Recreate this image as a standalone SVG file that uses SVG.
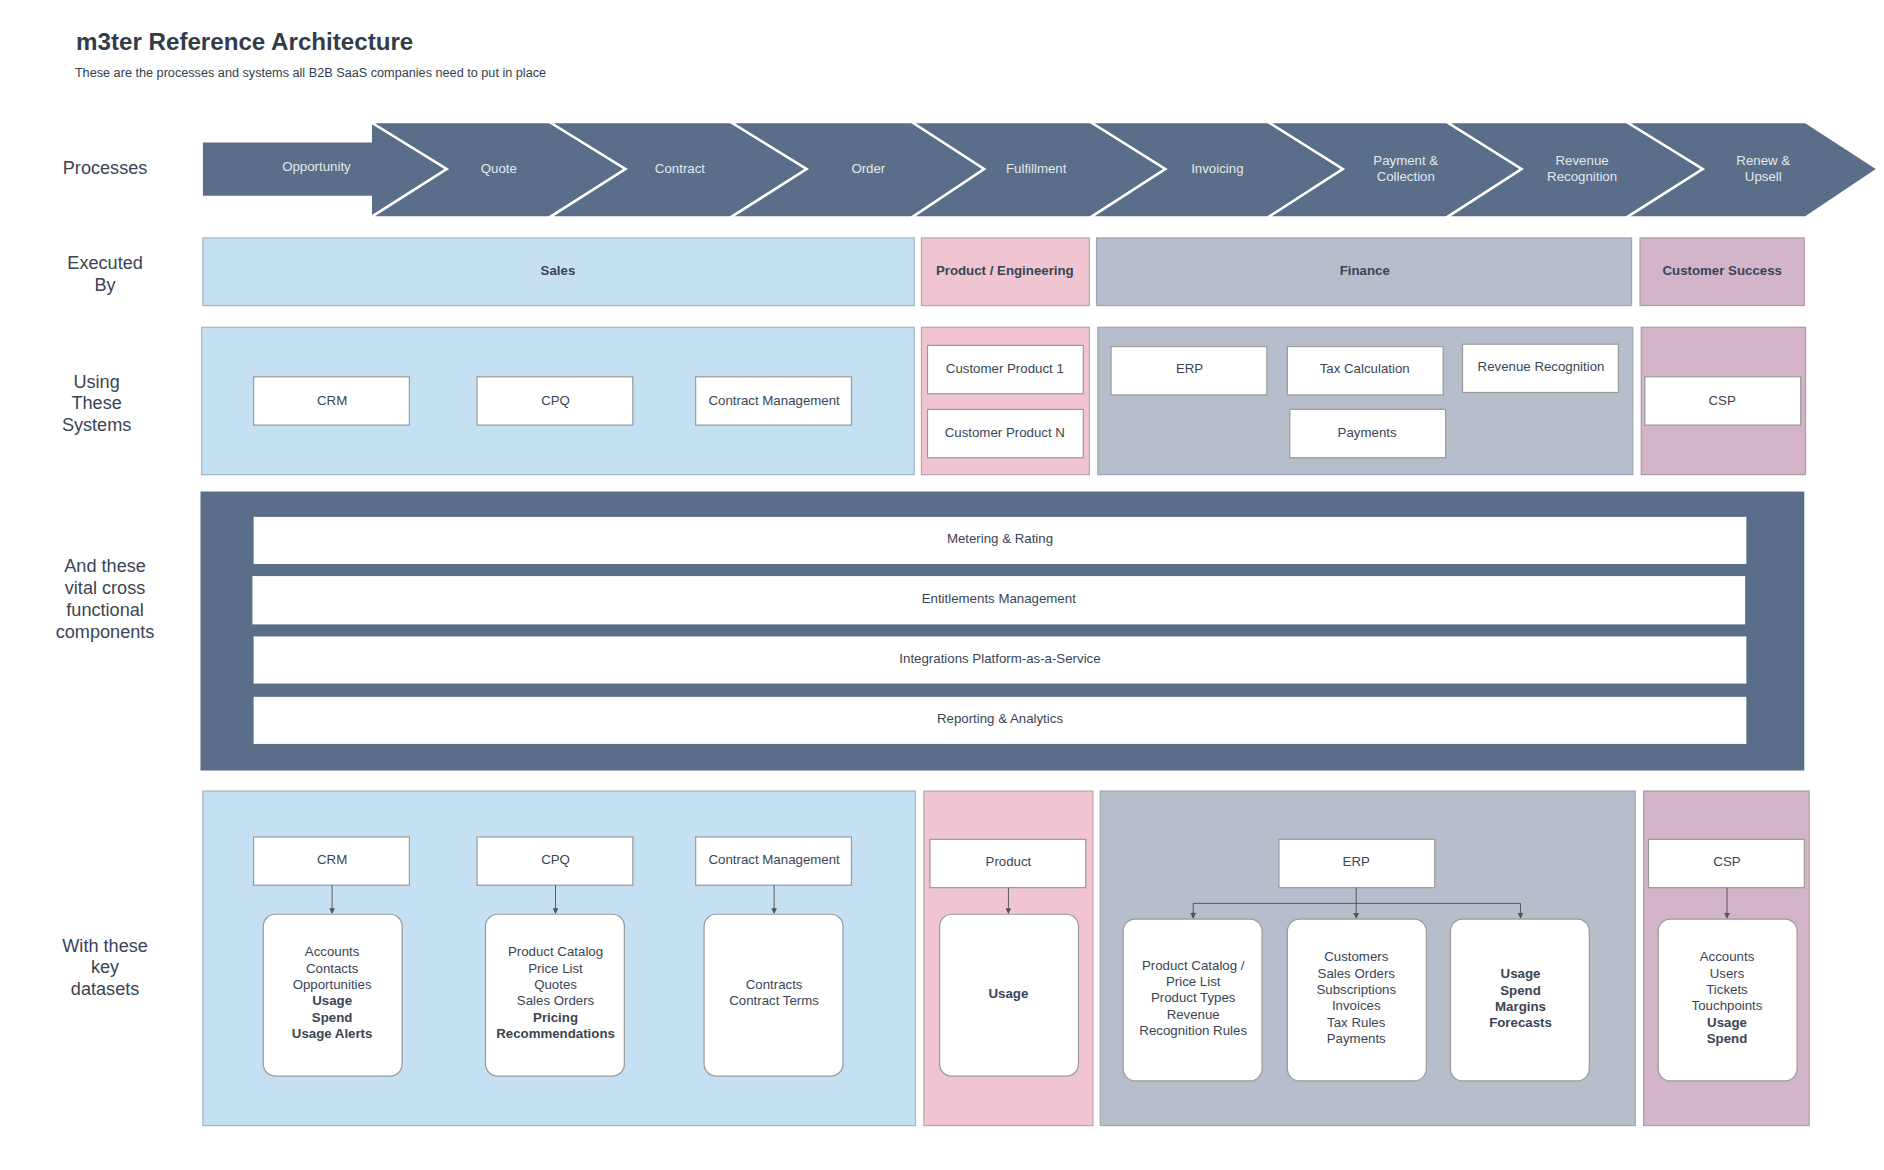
<svg xmlns="http://www.w3.org/2000/svg" width="1884" height="1170" viewBox="0 0 1884 1170">
<style>
text{font-family:"Liberation Sans",Arial,sans-serif;fill:#3a4454}
.t{font-size:11px;text-anchor:middle}
.b{font-weight:bold}
.lab{font-size:15px;text-anchor:middle}
.pl{font-size:11px;text-anchor:middle;fill:#e3e8ef}
.chev{fill:#5a6e8a;stroke:#fff;stroke-width:2}
.box{fill:#fff;stroke:#9a9a9a;stroke-width:1}
.sales{fill:#c4e0f2;stroke:#a9b4bf}
.pink{fill:#f0c4d0;stroke:#b9a4ac}
.fin{fill:#b6bdcb;stroke:#a0a6b0}
.cs{fill:#d4b4c8;stroke:#ad9aa6}
.con{stroke:#555;stroke-width:0.8;fill:none}
</style>
<defs><marker id="ah" markerWidth="6" markerHeight="6" refX="5" refY="3" orient="auto"><path d="M0,0L6,3L0,6z" fill="#555"/></marker></defs>
<rect width="1884" height="1170" fill="#fff"/>
<g transform="scale(1.2077)">
<g id="title">
<text x="63" y="41" style="font-size:20px;font-weight:bold;fill:#333d4a">m3ter Reference Architecture</text>
<text x="62" y="64" style="font-size:10.5px;fill:#333d4a">These are the processes and systems all B2B SaaS companies need to put in place</text>
</g>
<g id="row-labels">
<text class="lab" x="87" y="144">Processes</text>
<text class="lab" x="87" y="223">Executed</text><text class="lab" x="87" y="241">By</text>
<text class="lab" x="80" y="321">Using</text><text class="lab" x="80" y="339">These</text><text class="lab" x="80" y="357">Systems</text>
<text class="lab" x="87" y="474">And these</text><text class="lab" x="87" y="492">vital cross</text><text class="lab" x="87" y="510">functional</text><text class="lab" x="87" y="528">components</text>
<text class="lab" x="87" y="788">With these</text><text class="lab" x="87" y="806">key</text><text class="lab" x="87" y="824">datasets</text>
</g>
<g id="processes">
<polygon class="chev" points="167,117 307,117 307,101 370,140 307,180 307,163 167,163"/>
<polygon class="chev" points="307,101 455,101 518,140 455,180 307,180 370,140"/>
<polygon class="chev" points="455,101 605,101 668,140 605,180 455,180 518,140"/>
<polygon class="chev" points="605,101 755,101 815,140 755,180 605,180 668,140"/>
<polygon class="chev" points="755,101 903,101 965,140 903,180 755,180 815,140"/>
<polygon class="chev" points="903,101 1050,101 1112,140 1050,180 903,180 965,140"/>
<polygon class="chev" points="1050,101 1198,101 1260,140 1198,180 1050,180 1112,140"/>
<polygon class="chev" points="1198,101 1347,101 1410,140 1347,180 1198,180 1260,140"/>
<polygon class="chev" points="1347,101 1495,101 1555,140 1495,180 1347,180 1410,140"/>
<text class="pl" x="262" y="142">Opportunity</text>
<text class="pl" x="413" y="143">Quote</text>
<text class="pl" x="563" y="143">Contract</text>
<text class="pl" x="719" y="143">Order</text>
<text class="pl" x="858" y="143">Fulfillment</text>
<text class="pl" x="1008" y="143">Invoicing</text>
<text class="pl" x="1164" y="137">Payment &amp;</text><text class="pl" x="1164" y="150">Collection</text>
<text class="pl" x="1310" y="137">Revenue</text><text class="pl" x="1310" y="150">Recognition</text>
<text class="pl" x="1460" y="137">Renew &amp;</text><text class="pl" x="1460" y="150">Upsell</text>
</g>
<g id="executed">
<rect class="sales" x="168" y="197" width="589" height="56"/><text class="t b" x="462" y="228">Sales</text>
<rect class="pink" x="763" y="197" width="139" height="56"/><text class="t b" x="832" y="228">Product / Engineering</text>
<rect class="fin" x="908" y="197" width="443" height="56"/><text class="t b" x="1130" y="228">Finance</text>
<rect class="cs" x="1358" y="197" width="136" height="56"/><text class="t b" x="1426" y="228">Customer Success</text>
</g>
<g id="systems">
<rect class="sales" x="167" y="271" width="590" height="122"/>
<rect class="pink" x="763" y="271" width="139" height="122"/>
<rect class="fin" x="909" y="271" width="443" height="122"/>
<rect class="cs" x="1359" y="271" width="136" height="122"/>
<g id="sys-crm"><rect class="box" x="210" y="312" width="129" height="40"/><text class="t" x="275" y="335">CRM</text></g>
<g id="sys-cpq"><rect class="box" x="395" y="312" width="129" height="40"/><text class="t" x="460" y="335">CPQ</text></g>
<g id="sys-cm"><rect class="box" x="576" y="312" width="129" height="40"/><text class="t" x="641" y="335">Contract Management</text></g>
<g id="sys-cp1"><rect class="box" x="768" y="286" width="129" height="40"/><text class="t" x="832" y="309">Customer Product 1</text></g>
<g id="sys-cpn"><rect class="box" x="768" y="339" width="129" height="40"/><text class="t" x="832" y="362">Customer Product N</text></g>
<g id="sys-erp"><rect class="box" x="920" y="287" width="129" height="40"/><text class="t" x="985" y="309">ERP</text></g>
<g id="sys-tax"><rect class="box" x="1066" y="287" width="129" height="40"/><text class="t" x="1130" y="309">Tax Calculation</text></g>
<g id="sys-rr"><rect class="box" x="1211" y="285" width="129" height="40"/><text class="t" x="1276" y="307">Revenue Recognition</text></g>
<g id="sys-pay"><rect class="box" x="1068" y="339" width="129" height="40"/><text class="t" x="1132" y="362">Payments</text></g>
<g id="sys-csp"><rect class="box" x="1362" y="312" width="129" height="40"/><text class="t" x="1426" y="335">CSP</text></g>
</g>
<g id="components">
<rect x="166" y="407" width="1328" height="231" fill="#5a6e8a"/>
<g id="c-meter"><rect x="210" y="428" width="1236" height="39" fill="#fff"/><text class="t" x="828" y="450">Metering &amp; Rating</text></g>
<g id="c-ent"><rect x="209" y="477" width="1236" height="40" fill="#fff"/><text class="t" x="827" y="499">Entitlements Management</text></g>
<g id="c-ipaas"><rect x="210" y="527" width="1236" height="39" fill="#fff"/><text class="t" x="828" y="549">Integrations Platform-as-a-Service</text></g>
<g id="c-rep"><rect x="210" y="577" width="1236" height="39" fill="#fff"/><text class="t" x="828" y="599">Reporting &amp; Analytics</text></g>
</g>
<g id="datasets">
<rect class="sales" x="168" y="655" width="590" height="277"/>
<rect class="pink" x="765" y="655" width="140" height="277"/>
<rect class="fin" x="911" y="655" width="443" height="277"/>
<rect class="cs" x="1361" y="655" width="137" height="277"/>
<g id="d-crm"><rect class="box" x="210" y="693" width="129" height="40"/><text class="t" x="275" y="715">CRM</text></g>
<g id="d-cpq"><rect class="box" x="395" y="693" width="129" height="40"/><text class="t" x="460" y="715">CPQ</text></g>
<g id="d-cm"><rect class="box" x="576" y="693" width="129" height="40"/><text class="t" x="641" y="715">Contract Management</text></g>
<g id="d-prod"><rect class="box" x="770" y="695" width="129" height="40"/><text class="t" x="835" y="717">Product</text></g>
<g id="d-erp"><rect class="box" x="1059" y="695" width="129" height="40"/><text class="t" x="1123" y="717">ERP</text></g>
<g id="d-csp"><rect class="box" x="1365" y="695" width="129" height="40"/><text class="t" x="1430" y="717">CSP</text></g>
<g id="ds-crm"><rect class="box" x="218" y="757" width="115" height="134" rx="10"/>
<text class="t" x="275" y="792">Accounts</text><text class="t" x="275" y="805.5">Contacts</text><text class="t" x="275" y="819">Opportunities</text><text class="t b" x="275" y="832.5">Usage</text><text class="t b" x="275" y="846">Spend</text><text class="t b" x="275" y="859.5">Usage Alerts</text></g>
<g id="ds-cpq"><rect class="box" x="402" y="757" width="115" height="134" rx="10"/>
<text class="t" x="460" y="792">Product Catalog</text><text class="t" x="460" y="805.5">Price List</text><text class="t" x="460" y="819">Quotes</text><text class="t" x="460" y="832.5">Sales Orders</text><text class="t b" x="460" y="846">Pricing</text><text class="t b" x="460" y="859.5">Recommendations</text></g>
<g id="ds-cm"><rect class="box" x="583" y="757" width="115" height="134" rx="10"/>
<text class="t" x="641" y="819">Contracts</text><text class="t" x="641" y="832.5">Contract Terms</text></g>
<g id="ds-prod"><rect class="box" x="778" y="757" width="115" height="134" rx="10"/>
<text class="t b" x="835" y="826">Usage</text></g>
<g id="ds-erp1"><rect class="box" x="930" y="761" width="115" height="134" rx="10"/>
<text class="t" x="988" y="803">Product Catalog /</text><text class="t" x="988" y="816.5">Price List</text><text class="t" x="988" y="830">Product Types</text><text class="t" x="988" y="843.5">Revenue</text><text class="t" x="988" y="857">Recognition Rules</text></g>
<g id="ds-erp2"><rect class="box" x="1066" y="761" width="115" height="134" rx="10"/>
<text class="t" x="1123" y="796">Customers</text><text class="t" x="1123" y="809.5">Sales Orders</text><text class="t" x="1123" y="823">Subscriptions</text><text class="t" x="1123" y="836.5">Invoices</text><text class="t" x="1123" y="850">Tax Rules</text><text class="t" x="1123" y="863.5">Payments</text></g>
<g id="ds-erp3"><rect class="box" x="1201" y="761" width="115" height="134" rx="10"/>
<text class="t b" x="1259" y="810">Usage</text><text class="t b" x="1259" y="823.5">Spend</text><text class="t b" x="1259" y="837">Margins</text><text class="t b" x="1259" y="850.5">Forecasts</text></g>
<g id="ds-csp"><rect class="box" x="1373" y="761" width="115" height="134" rx="10"/>
<text class="t" x="1430" y="796">Accounts</text><text class="t" x="1430" y="809.5">Users</text><text class="t" x="1430" y="823">Tickets</text><text class="t" x="1430" y="836.5">Touchpoints</text><text class="t b" x="1430" y="850">Usage</text><text class="t b" x="1430" y="863.5">Spend</text></g>
</g>
<g id="connectors">
<line class="con" x1="275" y1="733" x2="275" y2="756" marker-end="url(#ah)"/>
<line class="con" x1="460" y1="733" x2="460" y2="756" marker-end="url(#ah)"/>
<line class="con" x1="641" y1="733" x2="641" y2="756" marker-end="url(#ah)"/>
<line class="con" x1="835" y1="735" x2="835" y2="756" marker-end="url(#ah)"/>
<line class="con" x1="1430" y1="735" x2="1430" y2="760" marker-end="url(#ah)"/>
<line class="con" x1="1123" y1="735" x2="1123" y2="760" marker-end="url(#ah)"/>
<path class="con" d="M988,760V748H1259V760" />
<line class="con" x1="988" y1="755" x2="988" y2="760" marker-end="url(#ah)"/>
<line class="con" x1="1259" y1="755" x2="1259" y2="760" marker-end="url(#ah)"/>
</g>
</g>
</svg>
